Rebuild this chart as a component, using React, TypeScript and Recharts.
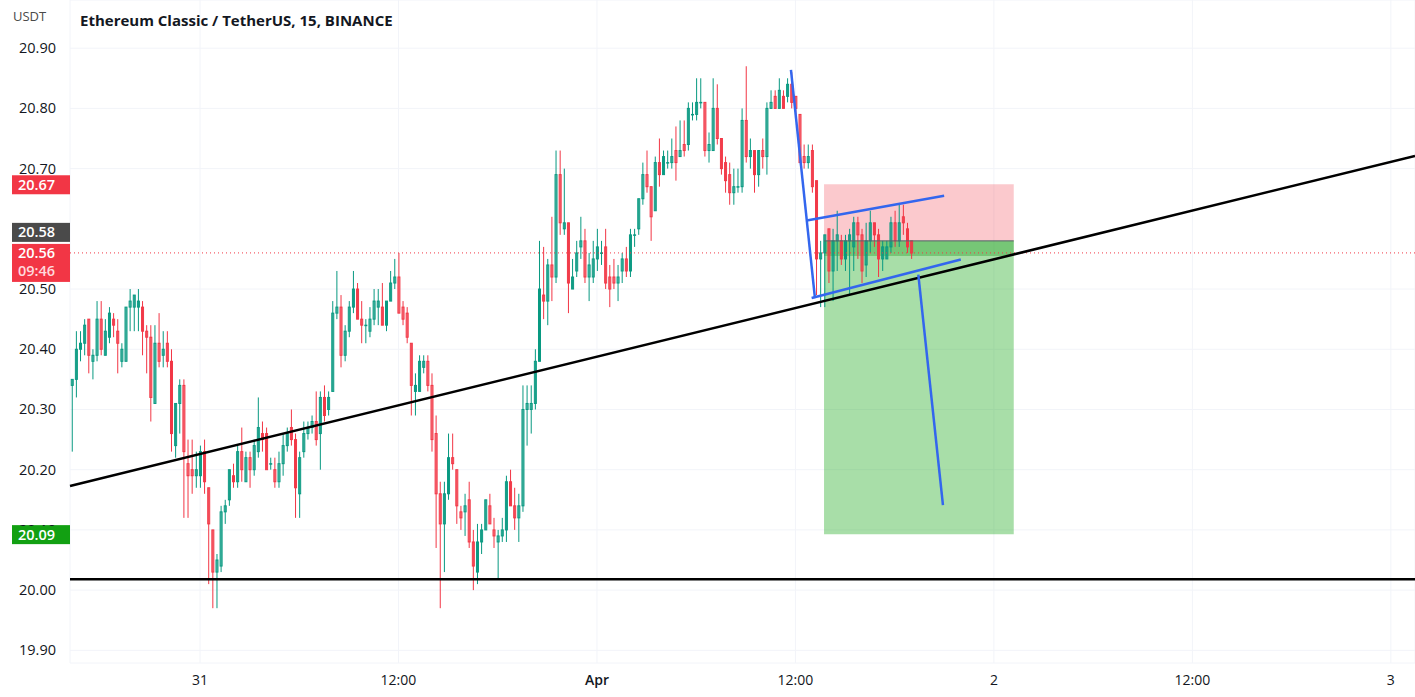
import {
  ComposedChart,
  Bar,
  XAxis,
  YAxis,
  CartesianGrid,
  ReferenceLine,
  ReferenceArea,
} from "recharts";

const FONT = "'Open Sans', 'Noto Sans', sans-serif";
const UP = "#089981";
const DOWN = "#F23645";
const BLUE = "#3366ee";

// 15 min candles, ETC/USDT, first one Mar 30 16:15 (hours counted from Mar 31 00:00)
const startHour = -7.75;
const stepHours = 0.25;

const opens = [
  20.34, 20.35, 20.40, 20.41, 20.45, 20.38, 20.39, 20.45, 20.39, 20.42, 20.45, 20.43,
  20.38, 20.38, 20.47, 20.47, 20.47, 20.47, 20.43, 20.42, 20.31, 20.41, 20.39, 20.41,
  20.38, 20.24, 20.31, 20.34, 20.21, 20.20, 20.19, 20.19, 20.23, 20.17, 20.10, 20.03,
  20.04, 20.13, 20.15, 20.19, 20.18, 20.23, 20.18, 20.22, 20.20, 20.23, 20.26, 20.26,
  20.21, 20.20, 20.18, 20.21, 20.24, 20.27, 20.25, 20.16, 20.23, 20.26, 20.27, 20.28,
  20.26, 20.32, 20.30, 20.33, 20.46, 20.47, 20.39, 20.43, 20.47, 20.50, 20.45, 20.44,
  20.43, 20.45, 20.47, 20.47, 20.44, 20.48, 20.51, 20.52, 20.47, 20.46, 20.41, 20.33,
  20.33, 20.37, 20.38, 20.34, 20.26, 20.16, 20.11, 20.16, 20.22, 20.20, 20.13, 20.13,
  20.15, 20.08, 20.03, 20.08, 20.10, 20.14, 20.10, 20.08, 20.09, 20.10, 20.18, 20.14,
  20.12, 20.14, 20.30, 20.30, 20.31, 20.38, 20.49, 20.48, 20.54, 20.52, 20.69, 20.60,
  20.61, 20.50, 20.53, 20.57, 20.58, 20.52, 20.52, 20.55, 20.56, 20.57, 20.52, 20.52,
  20.51, 20.53, 20.55, 20.53, 20.59, 20.60, 20.65, 20.69, 20.67, 20.63, 20.71, 20.69,
  20.71, 20.71, 20.73, 20.72, 20.74, 20.74, 20.79, 20.79, 20.81, 20.81, 20.73, 20.73,
  20.80, 20.75, 20.71, 20.69, 20.66, 20.67, 20.67, 20.78, 20.72, 20.73, 20.69, 20.73,
  20.72, 20.80, 20.82, 20.80, 20.82, 20.82, 20.84, 20.82, 20.79, 20.72, 20.71, 20.73,
  20.68, 20.55, 20.56, 20.60, 20.53, 20.58, 20.58, 20.55, 20.58, 20.57, 20.61, 20.59,
  20.54, 20.58, 20.61, 20.59, 20.55, 20.55, 20.57, 20.61, 20.58, 20.62, 20.60, 20.58,
];
const highs = [
  20.35, 20.43, 20.43, 20.45, 20.45, 20.40, 20.48, 20.48, 20.45, 20.47, 20.46, 20.45,
  20.41, 20.47, 20.50, 20.49, 20.50, 20.48, 20.44, 20.44, 20.44, 20.46, 20.43, 20.43,
  20.40, 20.31, 20.35, 20.35, 20.25, 20.25, 20.23, 20.24, 20.25, 20.17, 20.10, 20.06,
  20.14, 20.15, 20.20, 20.21, 20.24, 20.27, 20.23, 20.23, 20.25, 20.32, 20.28, 20.27,
  20.22, 20.22, 20.23, 20.26, 20.27, 20.30, 20.26, 20.23, 20.28, 20.28, 20.29, 20.33,
  20.33, 20.34, 20.33, 20.48, 20.53, 20.49, 20.44, 20.48, 20.53, 20.51, 20.48, 20.45,
  20.47, 20.50, 20.50, 20.51, 20.48, 20.53, 20.55, 20.56, 20.48, 20.47, 20.41, 20.36,
  20.39, 20.39, 20.39, 20.36, 20.29, 20.18, 20.18, 20.26, 20.26, 20.20, 20.14, 20.16,
  20.18, 20.10, 20.11, 20.11, 20.15, 20.16, 20.12, 20.10, 20.12, 20.19, 20.20, 20.17,
  20.16, 20.34, 20.34, 20.34, 20.40, 20.58, 20.57, 20.55, 20.62, 20.73, 20.73, 20.70,
  20.61, 20.55, 20.58, 20.62, 20.60, 20.56, 20.58, 20.60, 20.58, 20.60, 20.54, 20.55,
  20.54, 20.56, 20.57, 20.60, 20.60, 20.65, 20.71, 20.73, 20.67, 20.72, 20.75, 20.73,
  20.73, 20.75, 20.77, 20.78, 20.78, 20.81, 20.81, 20.85, 20.85, 20.81, 20.76, 20.85,
  20.84, 20.75, 20.72, 20.71, 20.70, 20.70, 20.80, 20.87, 20.75, 20.73, 20.73, 20.75,
  20.81, 20.83, 20.83, 20.85, 20.83, 20.85, 20.86, 20.82, 20.79, 20.74, 20.74, 20.74,
  20.68, 20.58, 20.59, 20.60, 20.60, 20.63, 20.59, 20.59, 20.60, 20.62, 20.62, 20.60,
  20.61, 20.63, 20.61, 20.60, 20.58, 20.58, 20.62, 20.63, 20.64, 20.64, 20.61, 20.58,
];
const lows = [
  20.23, 20.32, 20.38, 20.39, 20.36, 20.35, 20.38, 20.39, 20.39, 20.41, 20.42, 20.36,
  20.37, 20.38, 20.43, 20.43, 20.43, 20.39, 20.36, 20.28, 20.31, 20.37, 20.37, 20.37,
  20.23, 20.22, 20.26, 20.12, 20.12, 20.16, 20.17, 20.17, 20.16, 20.01, 19.97, 19.97,
  20.03, 20.11, 20.14, 20.17, 20.17, 20.18, 20.18, 20.17, 20.19, 20.22, 20.23, 20.20,
  20.20, 20.17, 20.17, 20.19, 20.23, 20.24, 20.12, 20.12, 20.22, 20.25, 20.26, 20.24,
  20.20, 20.28, 20.29, 20.33, 20.45, 20.37, 20.38, 20.42, 20.46, 20.45, 20.41, 20.41,
  20.42, 20.44, 20.44, 20.44, 20.43, 20.48, 20.50, 20.46, 20.44, 20.41, 20.29, 20.29,
  20.33, 20.36, 20.33, 20.23, 20.07, 19.97, 20.03, 20.15, 20.20, 20.11, 20.10, 20.09,
  20.07, 20.00, 20.01, 20.06, 20.10, 20.11, 20.07, 20.02, 20.08, 20.08, 20.14, 20.10,
  20.08, 20.13, 20.24, 20.26, 20.30, 20.38, 20.45, 20.44, 20.48, 20.51, 20.59, 20.59,
  20.46, 20.50, 20.52, 20.55, 20.51, 20.48, 20.51, 20.53, 20.54, 20.50, 20.47, 20.50,
  20.48, 20.51, 20.52, 20.52, 20.57, 20.59, 20.64, 20.66, 20.58, 20.63, 20.67, 20.69,
  20.70, 20.70, 20.68, 20.72, 20.72, 20.73, 20.78, 20.78, 20.80, 20.72, 20.71, 20.73,
  20.74, 20.69, 20.66, 20.64, 20.64, 20.66, 20.66, 20.71, 20.70, 20.66, 20.67, 20.70,
  20.69, 20.80, 20.80, 20.80, 20.80, 20.81, 20.80, 20.79, 20.71, 20.70, 20.70, 20.66,
  20.49, 20.47, 20.47, 20.51, 20.48, 20.53, 20.54, 20.53, 20.49, 20.53, 20.55, 20.51,
  20.52, 20.56, 20.57, 20.52, 20.53, 20.55, 20.56, 20.57, 20.57, 20.59, 20.56, 20.55,
];
const closes = [
  20.35, 20.40, 20.41, 20.44, 20.39, 20.39, 20.45, 20.40, 20.43, 20.46, 20.44, 20.41,
  20.40, 20.47, 20.48, 20.49, 20.48, 20.43, 20.42, 20.32, 20.41, 20.38, 20.40, 20.38,
  20.26, 20.31, 20.34, 20.23, 20.19, 20.19, 20.20, 20.23, 20.18, 20.11, 20.03, 20.05,
  20.13, 20.14, 20.20, 20.18, 20.23, 20.20, 20.22, 20.20, 20.24, 20.27, 20.25, 20.20,
  20.21, 20.18, 20.21, 20.24, 20.26, 20.25, 20.17, 20.22, 20.26, 20.27, 20.28, 20.25,
  20.32, 20.29, 20.32, 20.46, 20.47, 20.39, 20.43, 20.47, 20.50, 20.45, 20.44, 20.44,
  20.45, 20.48, 20.48, 20.44, 20.48, 20.51, 20.52, 20.46, 20.45, 20.42, 20.34, 20.34,
  20.38, 20.38, 20.34, 20.25, 20.16, 20.11, 20.16, 20.22, 20.21, 20.14, 20.12, 20.14,
  20.08, 20.04, 20.08, 20.10, 20.15, 20.11, 20.09, 20.09, 20.10, 20.18, 20.14, 20.12,
  20.14, 20.30, 20.31, 20.31, 20.38, 20.50, 20.48, 20.54, 20.52, 20.69, 20.61, 20.61,
  20.51, 20.52, 20.56, 20.58, 20.52, 20.54, 20.55, 20.57, 20.56, 20.51, 20.50, 20.51,
  20.52, 20.55, 20.53, 20.59, 20.59, 20.65, 20.69, 20.67, 20.62, 20.71, 20.69, 20.72,
  20.71, 20.72, 20.71, 20.73, 20.73, 20.80, 20.79, 20.81, 20.81, 20.73, 20.74, 20.80,
  20.75, 20.70, 20.68, 20.66, 20.67, 20.67, 20.78, 20.72, 20.73, 20.69, 20.73, 20.72,
  20.80, 20.81, 20.80, 20.83, 20.80, 20.84, 20.81, 20.80, 20.71, 20.71, 20.72, 20.67,
  20.55, 20.56, 20.59, 20.53, 20.58, 20.59, 20.55, 20.58, 20.59, 20.61, 20.59, 20.53,
  20.58, 20.61, 20.59, 20.55, 20.57, 20.57, 20.61, 20.58, 20.61, 20.61, 20.57, 20.56,
];

const xDomain = [-7.86, 73.46];
const yDomain = [19.879, 20.98];
const xTicks = [0, 12, 24, 36, 48, 60, 72];
const xTickLabels = ["31", "12:00", "Apr", "12:00", "2", "12:00", "3"];
// 20.60 sits under the price tags, as in the original, so it is not printed
const yTicks = [19.9, 20.0, 20.1, 20.2, 20.3, 20.4, 20.5, 20.7, 20.8, 20.9];
// 20.10 is mostly covered by the target tag: only its top shows
const partlyCovered = [20.1];

// drawings: [hour, price] pairs
const supportLine = [[-7.86, 20.173], [73.46, 20.721]];
const floorLine = [[-7.86, 20.018], [73.46, 20.018]];
const dropLeg = [[35.73, 20.864], [37.18, 20.485]];
const flagTop = [[36.68, 20.614], [44.99, 20.655]];
const flagBottom = [[36.98, 20.485], [46.0, 20.549]];
const targetLeg = [[43.43, 20.524], [44.92, 20.141]];

// short position tool
const positionStart = 37.73;
const positionEnd = 49.2;
const stopPrice = 20.674;
const entryPrice = 20.58;
const targetPrice = 20.093;
const lastPrice = 20.56;

// price tags on the axis
const tagPrices = [stopPrice, entryPrice, lastPrice, targetPrice];
const tagColors = [DOWN, "#4a4a4a", DOWN, "#12a012"];
const tagTexts = [["20.67"], ["20.58"], ["20.56", "09:46"], ["20.09"]];
const tagShift = [0, -9, 0, 0];

const data = closes.map((c, i) => ({
  t: startHour + i * stepHours,
  o: opens[i],
  h: highs[i],
  l: lows[i],
  c,
  range: [lows[i], highs[i]],
}));

const Candle = (props: any) => {
  const { x, y, width, height, payload } = props;
  if (!payload) return null;
  const { o, h, l, c } = payload;
  const color = c >= o ? UP : DOWN;
  const cx = x + width / 2;
  const span = h - l;
  const py = (p: number) => (span > 0 ? y + ((h - p) / span) * height : y);
  const top = py(Math.max(o, c));
  const bottom = py(Math.min(o, c));
  return (
    <g>
      <line x1={cx} x2={cx} y1={y} y2={y + height} stroke={color} strokeWidth={1} />
      <rect
        x={cx - 1}
        y={top}
        width={2}
        height={Math.max(bottom - top, 0.5)}
        fill={color}
        fillOpacity={0.35}
        stroke={color}
        strokeWidth={1}
      />
    </g>
  );
};

const YTick = ({ y, payload }: any) => {
  const v = Number(payload.value);
  const covered = partlyCovered.some((p) => Math.abs(p - v) < 1e-6);
  const id = `clip-${v.toFixed(2)}`;
  return (
    <g>
      {covered && (
        <clipPath id={id}>
          <rect x={0} y={y - 20} width={70} height={16} />
        </clipPath>
      )}
      <text
        x={19}
        y={y}
        dy={5}
        fill="#131722"
        fontSize={14.5}
        fontFamily={FONT}
        clipPath={covered ? `url(#${id})` : undefined}
      >
        {v.toFixed(2)}
      </text>
    </g>
  );
};

const priceTag = (i: number) => (props: any) => {
  const vb = props.viewBox || {};
  const lines = tagTexts[i];
  const top = vb.y + tagShift[i] - 9;
  const h = lines.length === 1 ? 19 : 38;
  return (
    <g>
      <rect x={12} y={top} width={58} height={h} fill={tagColors[i]} />
      {lines.map((s: string, k: number) => (
        <text
          key={k}
          x={18}
          y={top + 14.5 + k * 18}
          fill={k === 0 ? "#ffffff" : "#ffd9dd"}
          fontSize={14.5}
          fontWeight={600}
          fontFamily={FONT}
        >
          {s}
        </text>
      ))}
    </g>
  );
};

const XTick = ({ x, payload }: any) => {
  const idx = xTicks.indexOf(payload.value);
  const label = xTickLabels[idx] ?? "";
  return (
    <text
      x={x}
      y={685}
      textAnchor="middle"
      fill="#131722"
      fontSize={14}
      fontWeight={label === "Apr" ? 600 : 400}
      fontFamily={FONT}
    >
      {label}
    </text>
  );
};

const seg = (pts: number[][]) => pts.map(([x, y]) => ({ x, y }));

export default function App() {
  return (
    <div
      style={{
        position: "absolute",
        left: 0,
        top: 0,
        width: 1415,
        height: 697,
        background: "#ffffff",
        fontFamily: FONT,
      }}
    >
      <ComposedChart
        width={1415}
        height={697}
        data={data}
        margin={{ top: 0, right: 0, bottom: 0, left: 0 }}
      >
        <CartesianGrid stroke="#f2f4f9" />
        <XAxis
          dataKey="t"
          type="number"
          domain={xDomain}
          ticks={xTicks}
          allowDataOverflow
          axisLine={false}
          tickLine={false}
          height={34}
          tick={<XTick />}
        />
        <YAxis
          type="number"
          domain={yDomain}
          ticks={yTicks}
          interval={0}
          allowDataOverflow
          axisLine={false}
          tickLine={false}
          width={70}
          tick={<YTick />}
        />
        <ReferenceArea
          x1={positionStart}
          x2={positionEnd}
          y1={entryPrice}
          y2={stopPrice}
          fill="#f23645"
          fillOpacity={0.27}
          stroke="none"
          ifOverflow="visible"
        />
        <ReferenceArea
          x1={positionStart}
          x2={positionEnd}
          y1={targetPrice}
          y2={entryPrice}
          fill="#1aa81a"
          fillOpacity={0.38}
          stroke="none"
          ifOverflow="visible"
        />
        <ReferenceArea
          x1={positionStart}
          x2={positionEnd}
          y1={lastPrice - 0.005}
          y2={entryPrice}
          fill="#1a9a1a"
          fillOpacity={0.35}
          stroke="none"
          ifOverflow="visible"
        />
        <ReferenceLine
          segment={seg([[positionStart, entryPrice], [positionEnd, entryPrice]])}
          stroke="#5d606b"
          strokeWidth={1}
          ifOverflow="visible"
        />
        <Bar
          dataKey="range"
          barSize={3}
          shape={<Candle />}
          isAnimationActive={false}
        />
        <ReferenceLine y={lastPrice} stroke={DOWN} strokeDasharray="1 3" strokeWidth={1} />
        <ReferenceLine segment={seg(supportLine)} stroke="#000000" strokeWidth={2.5} ifOverflow="visible" />
        <ReferenceLine segment={seg(floorLine)} stroke="#000000" strokeWidth={2.5} ifOverflow="visible" />
        <ReferenceLine segment={seg(dropLeg)} stroke={BLUE} strokeWidth={2.5} ifOverflow="visible" />
        <ReferenceLine segment={seg(flagTop)} stroke={BLUE} strokeWidth={2.5} ifOverflow="visible" />
        <ReferenceLine segment={seg(flagBottom)} stroke={BLUE} strokeWidth={2.5} ifOverflow="visible" />
        <ReferenceLine segment={seg(targetLeg)} stroke={BLUE} strokeWidth={2.5} ifOverflow="visible" />
        {tagPrices.map((p, i) => (
          <ReferenceLine key={i} y={p} stroke="none" label={priceTag(i)} />
        ))}
      </ComposedChart>
      <div
        style={{
          position: "absolute",
          left: 13,
          top: 7,
          fontSize: 13,
          color: "#4a4a4a",
          lineHeight: "18px",
        }}
      >
        USDT
      </div>
      <div
        style={{
          position: "absolute",
          left: 80,
          top: 10,
          fontSize: 15,
          fontWeight: 700,
          color: "#131722",
          lineHeight: "20px",
          whiteSpace: "nowrap",
        }}
      >
        Ethereum Classic / TetherUS, 15, BINANCE
      </div>
    </div>
  );
}
